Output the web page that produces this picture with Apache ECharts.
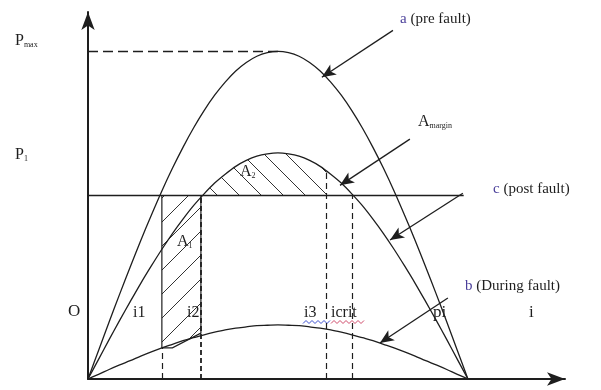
<!DOCTYPE html>
<html>
<head>
<meta charset="utf-8">
<script src="https://cdn.jsdelivr.net/npm/echarts@6/dist/echarts.min.js"></script>
<style>
  html, body { margin: 0; padding: 0; background: #fff; }
  #main { width: 601px; height: 390px; }
</style>
</head>
<body>
<div id="main"></div>
<script>
// load angle (degrees) and power curves in per unit of Pmax
var deltaDeg = [0, 5, 10, 15, 20, 25, 30, 35, 40, 45, 50, 55, 60, 65, 70, 75, 80, 85, 90,
  95, 100, 105, 110, 115, 120, 125, 130, 135, 140, 145, 150, 155, 160, 165, 170, 175, 180];
var preFault = [0, 0.087, 0.174, 0.259, 0.342, 0.423, 0.5, 0.574, 0.643, 0.707, 0.766, 0.819, 0.866, 0.906, 0.94, 0.966, 0.985, 0.996, 1.0,
  0.996, 0.985, 0.966, 0.94, 0.906, 0.866, 0.819, 0.766, 0.707, 0.643, 0.574, 0.5, 0.423, 0.342, 0.259, 0.174, 0.087, 0];
var postFault = [0, 0.06, 0.12, 0.179, 0.236, 0.292, 0.345, 0.396, 0.444, 0.488, 0.529, 0.565, 0.598, 0.625, 0.649, 0.667, 0.68, 0.687, 0.69,
  0.687, 0.68, 0.667, 0.649, 0.625, 0.598, 0.565, 0.529, 0.488, 0.444, 0.396, 0.345, 0.292, 0.236, 0.179, 0.12, 0.06, 0];
var duringFault = [0, 0.014, 0.029, 0.043, 0.056, 0.07, 0.083, 0.095, 0.106, 0.117, 0.126, 0.135, 0.143, 0.15, 0.155, 0.159, 0.163, 0.164, 0.165,
  0.164, 0.163, 0.159, 0.155, 0.15, 0.143, 0.135, 0.126, 0.117, 0.106, 0.095, 0.083, 0.07, 0.056, 0.043, 0.029, 0.014, 0];

// mechanical input P1 and the marked angles
var pMech = 0.56;
var pMechEnd = 178;
var delta1 = 35, delta2 = 53.5, delta3 = 113, deltaCrit = 125;

// accelerating area A1 (between b and P1) and decelerating area A2 (between c and P1)
var a1X = [35, 35, 53.5, 53.5, 40];
var a1Y = [0.095, 0.56, 0.56, 0.14, 0.095];
var a2X = [55, 60, 65, 70, 75, 80, 85, 90, 95, 100, 105, 110, 113];
var a2Y = [0.56, 0.598, 0.625, 0.649, 0.667, 0.68, 0.687, 0.69, 0.687, 0.68, 0.667, 0.649, 0.635];

// arrows from the labels to the curves: [x1, y1, x2, y2]
var arrows = [
  [144.5, 1.064, 110.8, 0.921],
  [152.5, 0.732, 119.4, 0.591],
  [177.6, 0.567, 143.1, 0.424],
  [170.5, 0.247, 138.3, 0.110]
];

var ink = '#1e1e1e';
var serif = '"Liberation Serif", "DejaVu Serif", serif';

function hatch(size, dir) {
  var c = document.createElement('canvas');
  c.width = size; c.height = size;
  var g = c.getContext('2d');
  g.strokeStyle = '#333';
  g.lineWidth = 1;
  g.beginPath();
  if (dir === '/') {
    g.moveTo(0, size); g.lineTo(size, 0);
    g.moveTo(-2, 2); g.lineTo(2, -2);
    g.moveTo(size - 2, size + 2); g.lineTo(size + 2, size - 2);
  } else {
    g.moveTo(0, 0); g.lineTo(size, size);
    g.moveTo(size - 2, -2); g.lineTo(size + 2, 2);
    g.moveTo(-2, size - 2); g.lineTo(2, size + 2);
  }
  g.stroke();
  return c;
}
var hatchA1 = hatch(24, '/');
var hatchA2 = hatch(22, '\\');

function pairs(xs, ys) {
  var out = [];
  for (var i = 0; i < xs.length; i++) out.push([xs[i], ys[i]]);
  return out;
}

function areaSeries(xs, ys, closeY, pattern, stroke) {
  return {
    type: 'custom',
    silent: true,
    z: 1,
    data: [0],
    renderItem: function (params, api) {
      var pts = [];
      for (var i = 0; i < xs.length; i++) pts.push(api.coord([xs[i], ys[i]]));
      if (closeY != null) {
        pts.push(api.coord([xs[xs.length - 1], closeY]));
        pts.push(api.coord([xs[0], closeY]));
      }
      return {
        type: 'polygon',
        shape: { points: pts },
        style: {
          fill: { image: pattern, repeat: 'repeat' },
          stroke: stroke ? ink : null,
          lineWidth: 1.2
        }
      };
    }
  };
}

function curve(name, ys) {
  return {
    name: name,
    type: 'line',
    data: pairs(deltaDeg, ys),
    smooth: 0.3,
    showSymbol: false,
    z: 3,
    lineStyle: { color: ink, width: 1.3 }
  };
}

function vline(x, top, dash, width) {
  return [
    { coord: [x, 0], lineStyle: { type: dash, width: width, color: ink } },
    { coord: [x, top] }
  ];
}

function txt(x, y, text, size, rich) {
  return {
    type: 'text',
    x: x,
    y: y,
    style: {
      text: text,
      font: (size || 15) + 'px ' + serif,
      fill: ink,
      verticalAlign: 'middle',
      rich: rich || {}
    }
  };
}

function squiggle(x0, x1, y, color) {
  var pts = [];
  for (var x = x0, k = 0; x <= x1; x += 3, k++) pts.push([x, y + (k % 2 ? -1.5 : 1.5)]);
  return {
    type: 'polyline',
    shape: { points: pts },
    style: { stroke: color, lineWidth: 1, fill: null }
  };
}

var subRich = {
  b: { fontSize: 16, fontFamily: serif, fill: ink, verticalAlign: 'bottom', lineHeight: 16 },
  s: { fontSize: 8, fontFamily: serif, fill: ink, verticalAlign: 'bottom', lineHeight: 11 },
  u: { fontSize: 15, fontFamily: serif, fill: '#4a3f9a' }
};

var chart = echarts.init(document.getElementById('main'));
chart.setOption({
  backgroundColor: '#fff',
  animation: false,
  grid: { left: 88, top: 12, width: 477, height: 367 },
  xAxis: {
    type: 'value',
    min: 0,
    max: 226,
    axisLine: { show: true, onZero: false, symbol: ['none', 'arrow'], symbolSize: [10, 18], lineStyle: { color: ink, width: 2 } },
    axisTick: { show: false },
    axisLabel: { show: false },
    splitLine: { show: false }
  },
  yAxis: {
    type: 'value',
    min: 0,
    max: 1.12,
    axisLine: { show: true, onZero: false, symbol: ['none', 'arrow'], symbolSize: [10, 18], lineStyle: { color: ink, width: 2 } },
    axisTick: { show: false },
    axisLabel: { show: false },
    splitLine: { show: false }
  },
  series: [
    areaSeries(a1X, a1Y, null, hatchA1, true),
    areaSeries(a2X, a2Y, pMech, hatchA2, false),
    curve('a (pre fault)', preFault),
    curve('c (post fault)', postFault),
    curve('b (During fault)', duringFault),
    {
      name: 'P1',
      type: 'line',
      data: [[0, pMech], [pMechEnd, pMech]],
      showSymbol: false,
      z: 3,
      lineStyle: { color: ink, width: 1.6 },
      markLine: {
        silent: true,
        symbol: ['none', 'none'],
        label: { show: false },
        lineStyle: { color: ink, width: 1.2, type: [6, 4] },
        data: [
          [{ coord: [0, 1.0], lineStyle: { type: [10, 5], width: 1.3, color: ink } }, { coord: [90, 1.0] }],
          vline(delta1, a1Y[0], [6, 4], 1.2),
          vline(delta2, pMech, [5, 3], 1.8),
          vline(delta3, a2Y[a2Y.length - 1], [6, 4], 1.2),
          vline(deltaCrit, pMech, [6, 4], 1.2)
        ]
      }
    },
    {
      type: 'line',
      data: [],
      markLine: {
        silent: true,
        symbol: ['none', 'arrow'],
        symbolSize: [9, 14],
        label: { show: false },
        lineStyle: { color: ink, width: 1.3, type: 'solid' },
        data: arrows.map(function (a) {
          return [{ coord: [a[0], a[1]] }, { coord: [a[2], a[3]] }];
        })
      }
    }
  ],
  graphic: [
    txt(15, 41, '{b|P}{s|max}', 15, subRich),
    txt(15, 155, '{b|P}{s|1}', 15, subRich),
    txt(68, 312, 'O', 17),
    txt(133, 313, 'i1', 16),
    txt(187, 313, 'i2', 16),
    txt(304, 313, 'i3', 16),
    txt(331, 313, 'icrit', 16),
    txt(433, 313, 'pi', 17),
    txt(529, 313, 'i', 17),
    squiggle(303, 330, 322, '#3b4fd0'),
    squiggle(331, 366, 322, '#d04a6a'),
    txt(400, 19, '{u|a} (pre fault)', 15, subRich),
    txt(418, 122, '{b|A}{s|margin}', 15, subRich),
    txt(493, 189, '{u|c} (post fault)', 15, subRich),
    txt(465, 286, '{u|b} (During fault)', 15, subRich),
    txt(177, 242, '{b|A}{s|1}', 15, subRich),
    txt(240, 172, '{b|A}{s|2}', 15, subRich)
  ]
});
</script>
</body>
</html>
